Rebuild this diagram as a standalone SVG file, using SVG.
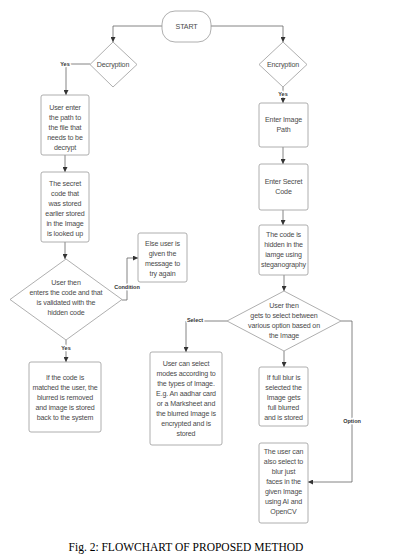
<svg xmlns="http://www.w3.org/2000/svg" width="408" height="560" viewBox="0 0 408 560">
<style>
.box{fill:#fff;stroke:#9a9a9a;stroke-width:0.8}
.t{font-family:"Liberation Sans",Arial,sans-serif;font-size:7.1px;letter-spacing:-0.15px;fill:#4a4a4a;text-anchor:middle}
.lbl{font-family:"Liberation Sans",Arial,sans-serif;font-size:5.5px;font-weight:bold;fill:#333;text-anchor:middle;stroke:#fff;stroke-width:2.5;paint-order:stroke}
.c{fill:none;stroke:#666;stroke-width:0.8}
.cap{font-family:"Liberation Serif","Times New Roman",serif;font-size:11.5px;fill:#000;text-anchor:middle}
</style>
<defs>
<marker id="ah" viewBox="0 0 6 6" refX="6" refY="3" markerWidth="5" markerHeight="5" orient="auto" markerUnits="userSpaceOnUse">
<path d="M0,0 L6,3 L0,6 Z" fill="#333"/>
</marker>
</defs>
<rect width="408" height="560" fill="#fff"/>
<g id="connectors">
<path class="c" d="M162,26 H113 V42" marker-end="url(#ah)"/>
<path class="c" d="M211,26 H283 V42" marker-end="url(#ah)"/>
<path class="c" d="M90,64 H66 V95" marker-end="url(#ah)"/>
<path class="c" d="M65,155 V172" marker-end="url(#ah)"/>
<path class="c" d="M65,242 V259" marker-end="url(#ah)"/>
<path class="c" d="M122,300 H127 V258 H138" marker-end="url(#ah)"/>
<path class="c" d="M66,340 V362" marker-end="url(#ah)"/>
<path class="c" d="M283,87 V103" marker-end="url(#ah)"/>
<path class="c" d="M283,147 V164" marker-end="url(#ah)"/>
<path class="c" d="M283,210 V225" marker-end="url(#ah)"/>
<path class="c" d="M284,275 V291" marker-end="url(#ah)"/>
<path class="c" d="M227,321 H186 V352" marker-end="url(#ah)"/>
<path class="c" d="M284,351 V367" marker-end="url(#ah)"/>
<path class="c" d="M341,321 H352 V482 H308" marker-end="url(#ah)"/>
<text class="lbl" x="65" y="66">Yes</text>
<text class="lbl" x="283" y="96">Yes</text>
<text class="lbl" x="127" y="289">Condition</text>
<text class="lbl" x="66" y="350">Yes</text>
<text class="lbl" x="195" y="322">Select</text>
<text class="lbl" x="352" y="423">Option</text>
</g>
<g id="start">
<rect class="box" x="162" y="11" width="49" height="31" rx="13"/>
<text class="t" x="186.5" y="29">START</text>
</g>
<g id="decryption">
<path class="box" d="M113,42 L137,64.5 L113,87 L90,64.5 Z"/>
<text class="t" x="113" y="67">Decryption</text>
</g>
<g id="encryption">
<path class="box" d="M283,42 L307,64.5 L283,87 L259,64.5 Z"/>
<text class="t" x="283" y="67">Encryption</text>
</g>
<g id="enter-path">
<rect class="box" x="41" y="95" width="48" height="60" rx="2"/>
<text class="t" x="65" y="109.5">User enter</text>
<text class="t" x="65" y="119.5">the path to</text>
<text class="t" x="65" y="129.5">the file that</text>
<text class="t" x="65" y="139.5">needs to be</text>
<text class="t" x="65" y="149.5">decrypt</text>
</g>
<g id="lookup">
<rect class="box" x="41" y="172" width="48" height="70" rx="2"/>
<text class="t" x="65" y="185.5">The secret</text>
<text class="t" x="65" y="195.5">code that</text>
<text class="t" x="65" y="205.5">was stored</text>
<text class="t" x="65" y="215.5">earlier stored</text>
<text class="t" x="65" y="225.5">in the Image</text>
<text class="t" x="65" y="235.5">is looked up</text>
</g>
<g id="validate">
<path class="box" d="M66,259 L122,299.5 L66,340 L10,299.5 Z"/>
<text class="t" x="66" y="284.5">User then</text>
<text class="t" x="66" y="294.5">enters the code and that</text>
<text class="t" x="66" y="304.5">is validated with the</text>
<text class="t" x="66" y="314.5">hidden code</text>
</g>
<g id="else">
<rect class="box" x="138" y="233" width="49" height="49" rx="2"/>
<text class="t" x="162.5" y="245.5">Else user is</text>
<text class="t" x="162.5" y="255.5">given the</text>
<text class="t" x="162.5" y="265.5">message to</text>
<text class="t" x="162.5" y="275.5">try again</text>
</g>
<g id="restore">
<rect class="box" x="29" y="362" width="72" height="70" rx="2"/>
<text class="t" x="65" y="379.5">If the code is</text>
<text class="t" x="65" y="389.5">matched the user, the</text>
<text class="t" x="65" y="399.5">blurred is removed</text>
<text class="t" x="65" y="409.5">and image is stored</text>
<text class="t" x="65" y="419.5">back to the system</text>
</g>
<g id="image-path">
<rect class="box" x="259" y="103" width="49" height="44" rx="2"/>
<text class="t" x="283.5" y="121.5">Enter Image</text>
<text class="t" x="283.5" y="131.5">Path</text>
</g>
<g id="secret-code">
<rect class="box" x="259" y="164" width="49" height="46" rx="2"/>
<text class="t" x="283.5" y="183.5">Enter Secret</text>
<text class="t" x="283.5" y="193.5">Code</text>
</g>
<g id="hidden">
<rect class="box" x="259" y="225" width="49" height="50" rx="2"/>
<text class="t" x="283.5" y="236.5">The code is</text>
<text class="t" x="283.5" y="246.5">hidden in the</text>
<text class="t" x="283.5" y="256.5">iamge using</text>
<text class="t" x="283.5" y="266.5">steganography</text>
</g>
<g id="options">
<path class="box" d="M284,291 L341,321 L284,351 L227,321 Z"/>
<text class="t" x="284" y="307.5">User then</text>
<text class="t" x="284" y="317.5">gets to select between</text>
<text class="t" x="284" y="327.5">various option based on</text>
<text class="t" x="284" y="338">the Image</text>
</g>
<g id="select-modes">
<rect class="box" x="150" y="352" width="72" height="93" rx="2"/>
<text class="t" x="186" y="365.5">User can select</text>
<text class="t" x="186" y="375.5">modes according to</text>
<text class="t" x="186" y="385.5">the types of Image.</text>
<text class="t" x="186" y="395.5">E.g. An aadhar card</text>
<text class="t" x="186" y="405.5">or a Marksheet and</text>
<text class="t" x="186" y="415.5">the blurred Image is</text>
<text class="t" x="186" y="425.5">encrypted and is</text>
<text class="t" x="186" y="435.5">stored</text>
</g>
<g id="full-blur">
<rect class="box" x="259" y="367" width="49" height="59" rx="2"/>
<text class="t" x="283.5" y="379.5">If full blur is</text>
<text class="t" x="283.5" y="389.5">selected the</text>
<text class="t" x="283.5" y="399.5">Image gets</text>
<text class="t" x="283.5" y="409.5">full blurred</text>
<text class="t" x="283.5" y="419.5">and is stored</text>
</g>
<g id="face-blur">
<rect class="box" x="259" y="443" width="49" height="80" rx="2"/>
<text class="t" x="283.5" y="453.5">The user can</text>
<text class="t" x="283.5" y="463.5">also select to</text>
<text class="t" x="283.5" y="473.5">blur just</text>
<text class="t" x="283.5" y="483.5">faces in the</text>
<text class="t" x="283.5" y="493.5">given Image</text>
<text class="t" x="283.5" y="503.5">using AI and</text>
<text class="t" x="283.5" y="513.5">OpenCV</text>
</g>
<text class="cap" x="186" y="551">Fig. 2: FLOWCHART OF PROPOSED METHOD</text>
</svg>
